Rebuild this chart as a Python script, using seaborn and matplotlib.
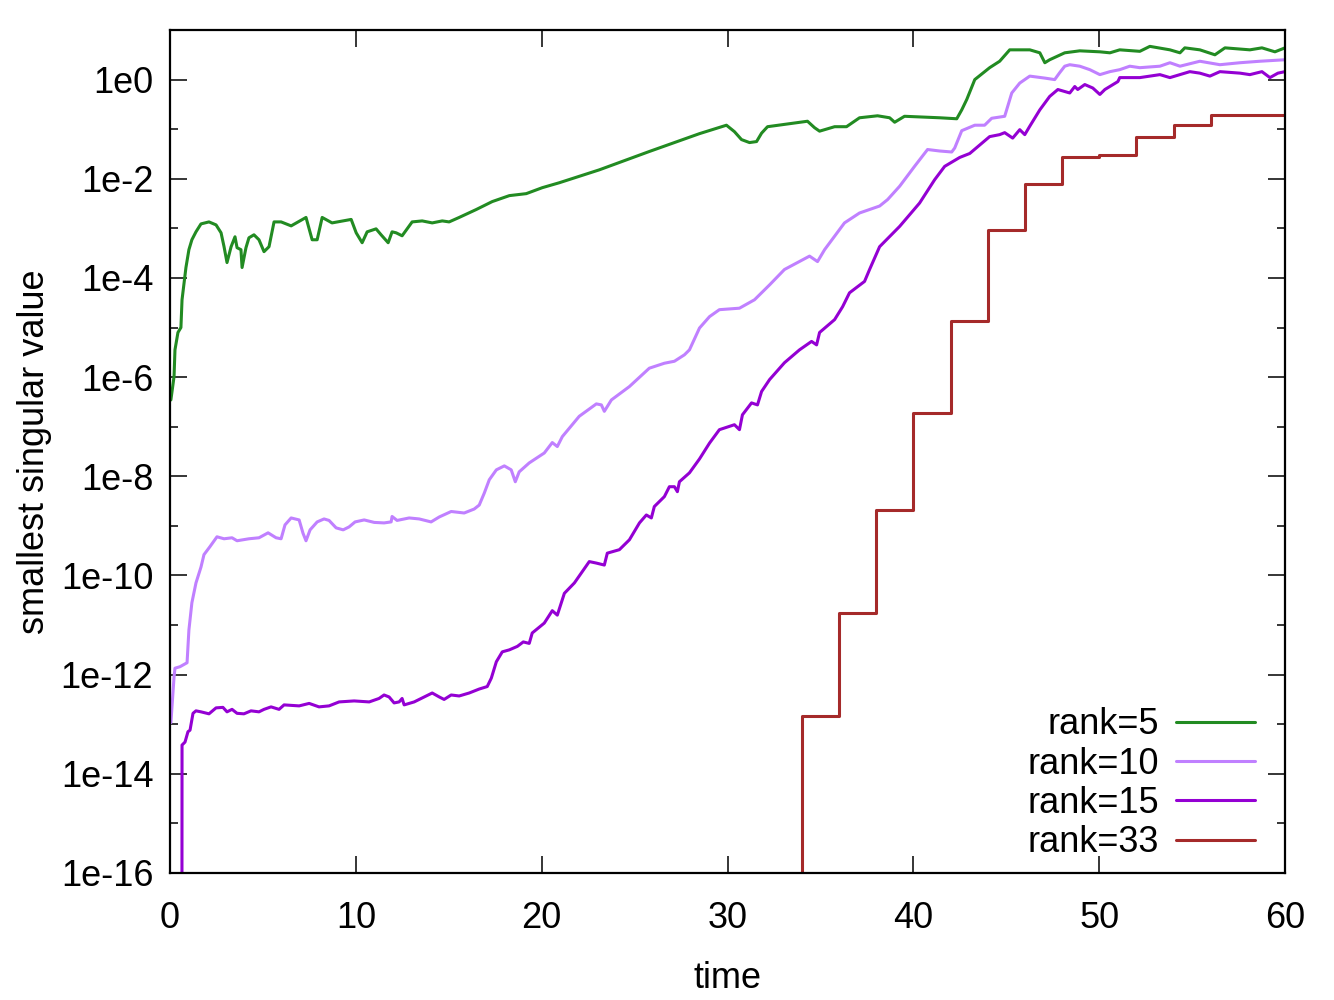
import numpy as np
import pandas as pd
import matplotlib
matplotlib.use("Agg")
import matplotlib.pyplot as plt
from matplotlib.ticker import FixedLocator, FixedFormatter
import seaborn as sns

# rank=5 (time, log10 of smallest singular value)
t_r5 = [0.05, 0.22, 0.27, 0.43, 0.59, 0.65, 0.86, 1.02, 1.18, 1.40, 1.67, 2.10, 2.48, 2.75,
        2.91, 3.07, 3.29, 3.50, 3.61, 3.82, 3.88, 4.09, 4.25, 4.52, 4.79, 5.06, 5.33, 5.60,
        5.98, 6.52, 7.32, 7.65, 7.92, 8.19, 8.72, 9.75, 10.02, 10.34, 10.61, 11.09, 11.36,
        11.74, 11.95, 12.17, 12.49, 13.03, 13.57, 14.11, 14.65, 15.02, 15.56, 16.48, 17.34,
        18.26, 19.17, 20.03, 20.95, 23.10, 25.79, 28.49, 29.94, 30.37, 30.75, 31.18, 31.56,
        31.83, 32.15, 34.30, 34.68, 34.95, 35.76, 36.40, 37.10, 38.07, 38.72, 38.99, 39.52,
        41.41, 42.33, 42.60, 42.87, 43.30, 44.10, 44.64, 45.18, 46.26, 46.80, 47.07, 47.33,
        48.14, 48.95, 50.03, 50.57, 51.10, 52.18, 52.72, 53.80, 54.34, 54.60, 55.41, 56.22,
        56.76, 58.10, 58.75, 59.45, 59.99]
v_r5 = [-6.46, -5.99, -5.45, -5.10, -5.00, -4.44, -3.79, -3.43, -3.23, -3.07, -2.91, -2.87,
        -2.93, -3.09, -3.37, -3.69, -3.37, -3.17, -3.39, -3.43, -3.79, -3.39, -3.19, -3.13,
        -3.23, -3.47, -3.37, -2.87, -2.87, -2.95, -2.78, -3.23, -3.23, -2.78, -2.89, -2.82,
        -3.09, -3.29, -3.07, -3.01, -3.13, -3.29, -3.07, -3.09, -3.15, -2.87, -2.85, -2.89,
        -2.85, -2.87, -2.78, -2.62, -2.46, -2.34, -2.30, -2.18, -2.08, -1.82, -1.45, -1.09,
        -0.92, -1.05, -1.21, -1.27, -1.25, -1.08, -0.95, -0.84, -0.97, -1.04, -0.95, -0.95,
        -0.77, -0.73, -0.77, -0.86, -0.74, -0.77, -0.79, -0.61, -0.40, 0.00, 0.24, 0.37,
        0.60, 0.60, 0.54, 0.34, 0.40, 0.54, 0.58, 0.56, 0.54, 0.60, 0.57, 0.67, 0.60, 0.54,
        0.64, 0.60, 0.50, 0.64, 0.60, 0.64, 0.56, 0.64]

# rank=10
t_r10 = [0.05, 0.22, 0.27, 0.54, 0.92, 1.02, 1.18, 1.40, 1.67, 1.83, 2.15, 2.53, 2.91, 3.34,
         3.61, 4.25, 4.79, 5.28, 5.71, 5.98, 6.19, 6.52, 6.95, 7.16, 7.32, 7.54, 7.92, 8.29,
         8.56, 8.94, 9.32, 9.64, 9.96, 10.45, 10.99, 11.52, 11.90, 11.95, 12.22, 12.87, 13.41,
         14.05, 14.49, 15.13, 15.83, 16.37, 16.64, 16.91, 17.18, 17.56, 17.99, 18.36, 18.58,
         18.79, 19.33, 20.14, 20.57, 20.84, 21.11, 22.02, 22.94, 23.21, 23.37, 23.75, 24.72,
         25.79, 26.60, 27.14, 27.68, 27.95, 28.49, 29.03, 29.56, 30.64, 31.45, 32.26, 33.06,
         34.41, 34.84, 35.22, 36.29, 37.10, 38.18, 38.61, 39.26, 40.06, 40.76, 41.41, 42.06,
         42.22, 42.60, 43.30, 43.83, 44.21, 44.91, 45.29, 45.72, 46.26, 47.07, 47.60, 47.87,
         48.14, 48.41, 48.95, 49.49, 50.03, 50.57, 51.10, 51.64, 52.18, 53.26, 53.80, 54.34,
         55.41, 56.49, 57.57, 58.64, 59.99]
v_r10 = [-12.97, -12.05, -11.87, -11.84, -11.76, -11.10, -10.55, -10.15, -9.83, -9.58, -9.42,
         -9.22, -9.26, -9.24, -9.30, -9.26, -9.24, -9.14, -9.24, -9.26, -8.98, -8.84, -8.88,
         -9.15, -9.30, -9.08, -8.92, -8.86, -8.89, -9.04, -9.08, -9.02, -8.92, -8.88, -8.93,
         -8.94, -8.92, -8.81, -8.89, -8.84, -8.86, -8.92, -8.82, -8.71, -8.74, -8.66, -8.58,
         -8.34, -8.07, -7.87, -7.79, -7.87, -8.11, -7.91, -7.73, -7.53, -7.32, -7.40, -7.20,
         -6.79, -6.54, -6.56, -6.69, -6.46, -6.19, -5.82, -5.72, -5.68, -5.55, -5.45, -5.01,
         -4.78, -4.64, -4.61, -4.44, -4.14, -3.83, -3.56, -3.67, -3.43, -2.89, -2.69, -2.55,
         -2.42, -2.15, -1.75, -1.41, -1.44, -1.46, -1.38, -1.03, -0.92, -0.92, -0.78, -0.74,
         -0.27, -0.07, 0.07, 0.03, 0.00, 0.14, 0.27, 0.30, 0.27, 0.20, 0.10, 0.16, 0.20, 0.27,
         0.24, 0.27, 0.34, 0.27, 0.37, 0.30, 0.34, 0.37, 0.40]

# rank=15
t_r15 = [0.64, 0.65, 0.81, 0.97, 1.08, 1.24, 1.40, 1.67, 2.10, 2.48, 2.85, 3.07, 3.34, 3.61,
         3.98, 4.36, 4.79, 5.06, 5.44, 5.87, 6.14, 6.95, 7.49, 8.02, 8.56, 9.10, 9.91, 10.72,
         11.25, 11.52, 11.79, 12.06, 12.33, 12.49, 12.60, 13.14, 13.68, 14.11, 14.49, 14.75,
         15.13, 15.56, 16.10, 16.64, 17.07, 17.29, 17.56, 17.88, 18.26, 18.69, 19.01, 19.33,
         19.49, 20.14, 20.57, 20.84, 21.22, 21.76, 22.56, 22.94, 23.37, 23.53, 24.18, 24.72,
         25.26, 25.63, 25.90, 26.06, 26.60, 26.87, 27.14, 27.30, 27.41, 27.95, 28.49, 29.03,
         29.56, 30.37, 30.64, 30.80, 31.29, 31.61, 31.83, 32.26, 33.06, 33.87, 34.52, 34.79,
         34.95, 35.76, 36.19, 36.56, 37.37, 37.64, 38.18, 39.26, 40.33, 41.14, 41.68, 42.49,
         43.03, 44.10, 44.64, 44.91, 45.34, 45.72, 45.99, 46.26, 46.80, 47.33, 47.77, 48.14,
         48.41, 48.68, 48.84, 49.22, 49.65, 50.03, 50.30, 51.00, 51.10, 52.18, 53.26, 53.80,
         54.34, 54.87, 55.41, 55.95, 56.49, 57.57, 58.10, 58.75, 59.18, 59.61, 59.99]
v_r15 = [-20.0, -13.42, -13.36, -13.15, -13.12, -12.78, -12.73, -12.75, -12.79, -12.67,
         -12.66, -12.75, -12.70, -12.78, -12.79, -12.73, -12.75, -12.70, -12.65, -12.70,
         -12.61, -12.63, -12.58, -12.65, -12.63, -12.55, -12.53, -12.55, -12.48, -12.41,
         -12.45, -12.57, -12.55, -12.48, -12.61, -12.55, -12.45, -12.37, -12.45, -12.50,
         -12.41, -12.43, -12.37, -12.29, -12.24, -12.07, -11.74, -11.54, -11.50, -11.43,
         -11.34, -11.37, -11.16, -10.96, -10.71, -10.80, -10.36, -10.15, -9.72, -9.75, -9.79,
         -9.55, -9.48, -9.28, -8.94, -8.78, -8.84, -8.61, -8.41, -8.21, -8.21, -8.31, -8.11,
         -7.93, -7.65, -7.33, -7.06, -6.96, -7.06, -6.76, -6.52, -6.56, -6.29, -6.05, -5.71,
         -5.45, -5.28, -5.35, -5.10, -4.84, -4.58, -4.30, -4.07, -3.83, -3.37, -2.96, -2.49,
         -2.02, -1.75, -1.57, -1.49, -1.15, -1.11, -1.07, -1.18, -1.01, -1.11, -0.94, -0.61,
         -0.34, -0.20, -0.24, -0.27, -0.14, -0.20, -0.10, -0.17, -0.30, -0.20, -0.04, 0.04,
         0.04, 0.10, 0.04, 0.10, 0.16, 0.13, 0.07, 0.16, 0.13, 0.10, 0.16, 0.04, 0.13, 0.16]

# rank=33 (piecewise constant, steps)
t_r33 = [32, 34, 36, 38, 40, 42, 44, 46, 48, 50, 52, 54, 56, 60]
v_r33 = [-20.0, -12.83, -10.75, -8.68, -6.72, -4.86, -3.03, -2.10, -1.57, -1.53, -1.15,
         -0.91, -0.71, -0.69]

labels = ["rank=5", "rank=10", "rank=15", "rank=33"]
colors = ["#228b22", "#c080ff", "#9400d3", "#a52a2a"]

yticks = [1e0, 1e-2, 1e-4, 1e-6, 1e-8, 1e-10, 1e-12, 1e-14, 1e-16]
ytick_labels = ["1e0", "1e-2", "1e-4", "1e-6", "1e-8", "1e-10", "1e-12", "1e-14", "1e-16"]
yminor = [1e-1, 1e-3, 1e-5, 1e-7, 1e-9, 1e-11, 1e-13, 1e-15]
xticks = [0, 10, 20, 30, 40, 50, 60]

sns.set_style("ticks")
plt.rcParams['font.family'] = ['Liberation Sans', 'DejaVu Sans']
plt.rcParams['text.color'] = 'black'
plt.rcParams['axes.labelcolor'] = 'black'
plt.rcParams['xtick.color'] = 'black'
plt.rcParams['ytick.color'] = 'black'

fig = plt.figure(figsize=(13.34, 10), dpi=100)
ax = fig.add_axes([0.1274, 0.127, 0.836, 0.843])

series = [(t_r5, v_r5), (t_r10, v_r10), (t_r15, v_r15), (t_r33, v_r33)]
for (t, v), lab, col in zip(series, labels, colors):
    df = pd.DataFrame({"time": t, "val": 10.0 ** np.array(v)})
    sns.lineplot(data=df, x="time", y="val", ax=ax, color=col, label=lab,
                 linewidth=2.2, estimator=None, sort=False,
                 drawstyle="steps-post" if lab == "rank=33" else "default")

ax.set_yscale("log")
ax.set_xlim(0, 60)
ax.set_ylim(1e-16, 10)
ax.yaxis.set_major_locator(FixedLocator(yticks))
ax.yaxis.set_major_formatter(FixedFormatter(ytick_labels))
ax.yaxis.set_minor_locator(FixedLocator(yminor))
ax.yaxis.set_minor_formatter(FixedFormatter([""] * len(yminor)))
ax.set_xticks(xticks)
ax.set_xticklabels([str(x) for x in xticks])

ax.tick_params(which="major", direction="in", top=True, right=True, length=12, width=1.1,
               labelsize=26, color="black", labelcolor="black")
ax.tick_params(which="minor", direction="in", top=True, right=True, length=6, width=1.1)
ax.tick_params(axis="y", pad=12)
ax.tick_params(axis="x", pad=20)
for s in ax.spines.values():
    s.set_linewidth(1.6)
    s.set_color("black")

ax.set_xlabel("time", fontsize=26, labelpad=18, color="black")
ax.set_ylabel("smallest singular value", fontsize=26, labelpad=6, color="black")

leg = ax.legend(loc="lower right", bbox_to_anchor=(0.973, 0.015), frameon=False,
                markerfirst=False, fontsize=26, handlelength=2.2, handletextpad=0.45,
                labelspacing=0.12, borderpad=0, borderaxespad=0)
for txt in leg.get_texts():
    txt.set_color("black")

fig.savefig("out.png", dpi=100)
